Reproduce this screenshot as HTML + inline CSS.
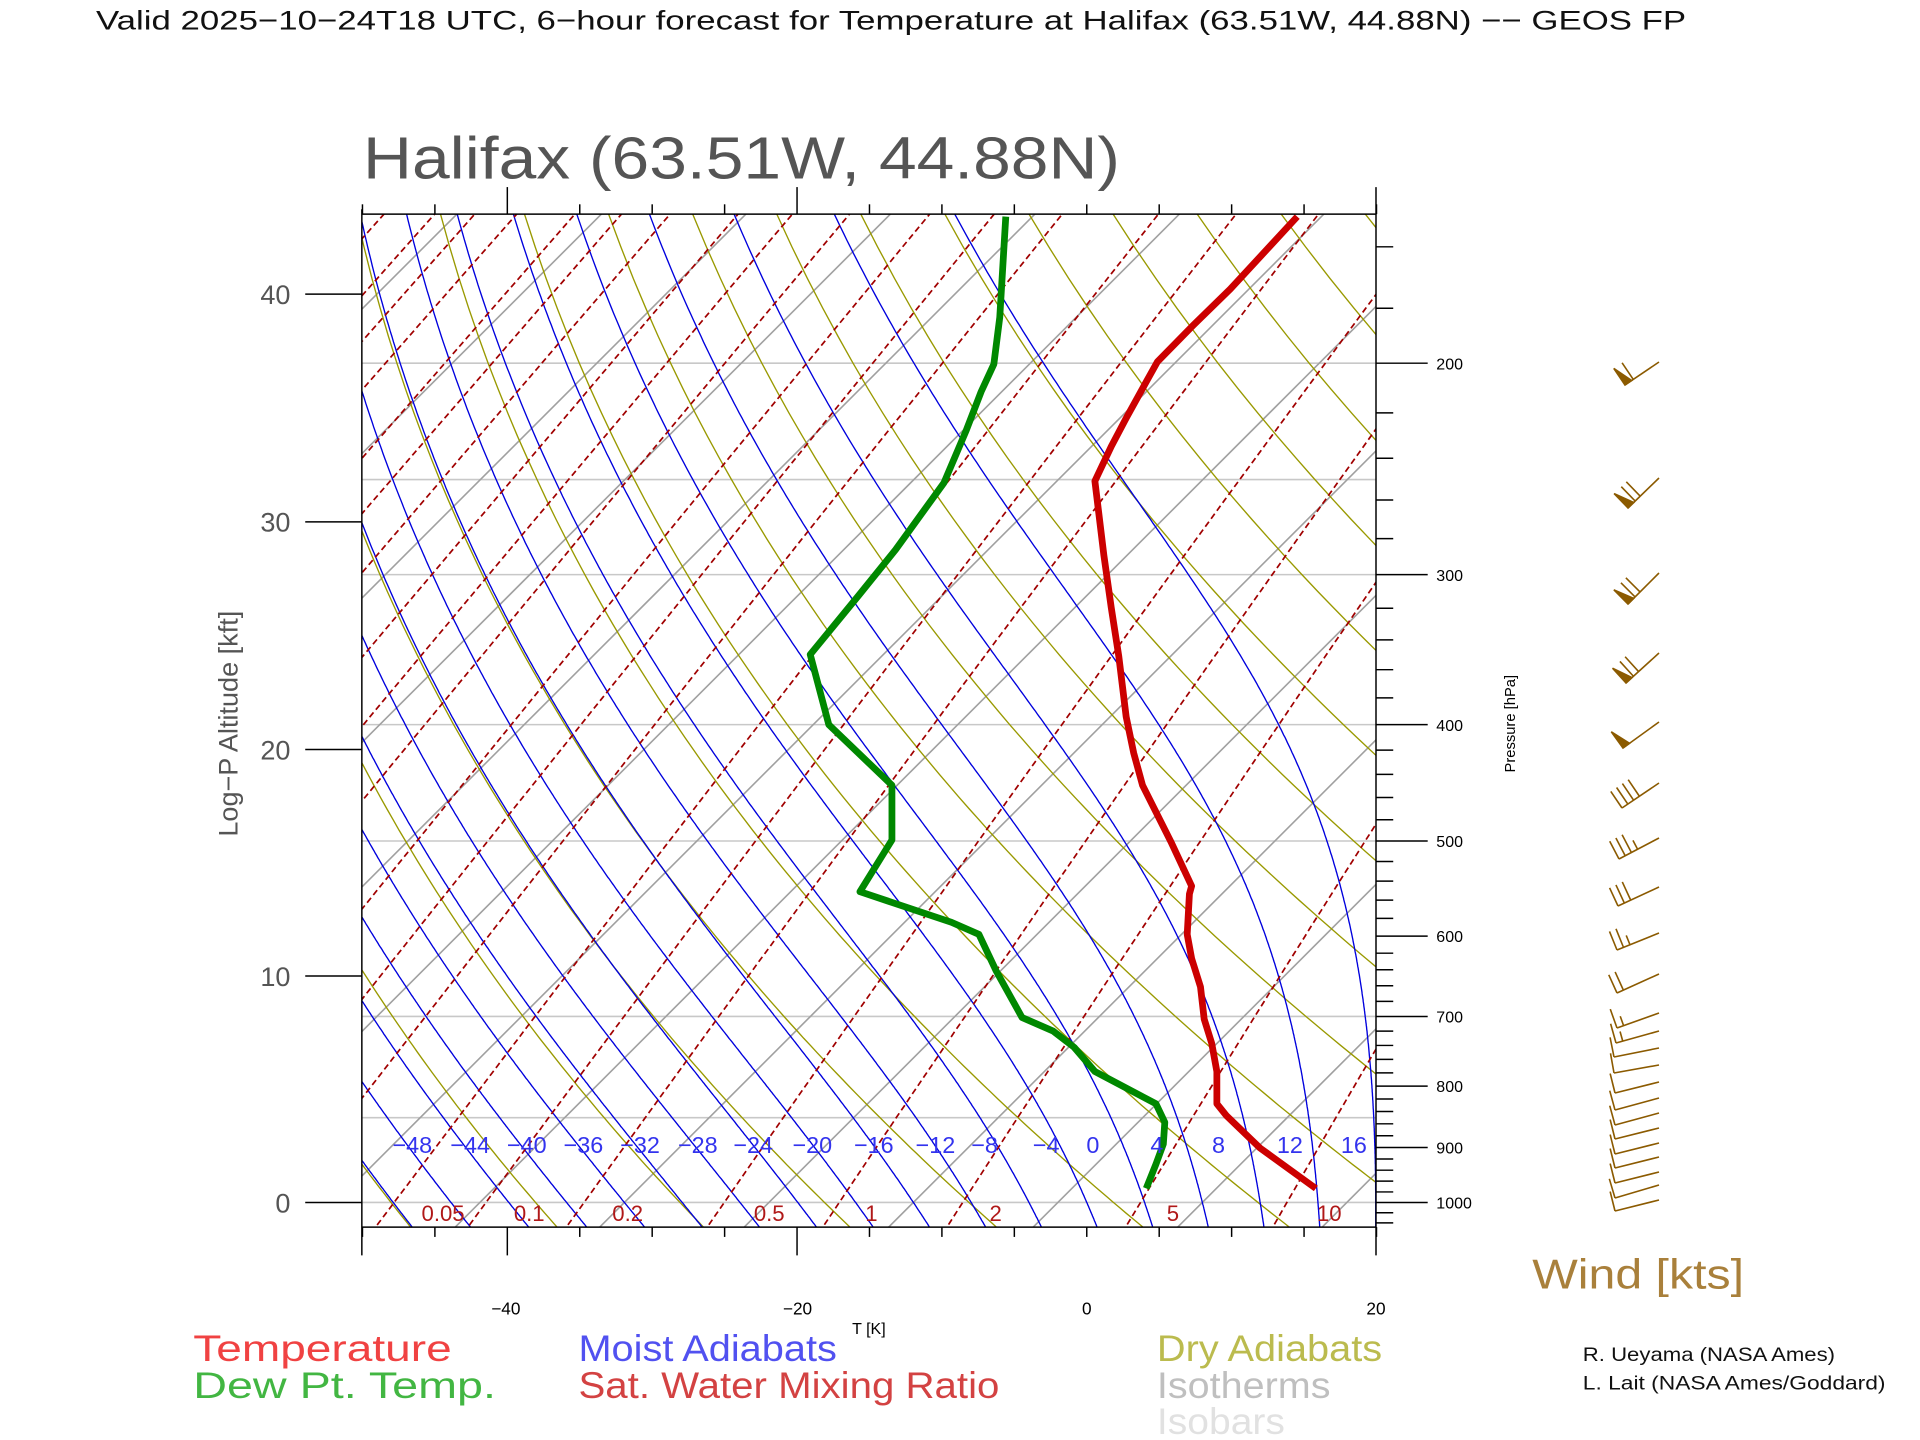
<!DOCTYPE html>
<html><head><meta charset="utf-8">
<style>
html,body{margin:0;padding:0;background:#fff;}
svg{display:block;}
text{font-family:"Liberation Sans",sans-serif;}
</style></head>
<body>
<svg id="s" xmlns="http://www.w3.org/2000/svg" width="1920" height="1440" viewBox="0 0 1560 1170">
<rect width="1560" height="1170" fill="#fff"/>
<defs><clipPath id="cp"><rect x="294" y="174" width="824" height="823"/></clipPath></defs>
<g id="grid" clip-path="url(#cp)"></g>
<g id="data" clip-path="url(#cp)"></g>
<g id="axes" stroke="#000" stroke-width="1.2" fill="none"></g>
<g id="barbs" transform="scale(0.8125)" stroke="#8b5a00" fill="#8b5a00" stroke-width="1.6"></g>

<text x="78" y="24" font-size="22" fill="#111" textLength="1292" lengthAdjust="spacingAndGlyphs">Valid 2025−10−24T18 UTC, 6−hour forecast for Temperature at Halifax (63.51W, 44.88N) −− GEOS FP</text>
<text x="295" y="145" font-size="48" fill="#555" textLength="615" lengthAdjust="spacingAndGlyphs">Halifax (63.51W, 44.88N)</text>

<g font-size="22" fill="#555" text-anchor="end">
<text x="236" y="985">0</text><text x="236" y="801">10</text><text x="236" y="617">20</text><text x="236" y="432">30</text><text x="236" y="247">40</text>
</g>
<text transform="translate(193,588) rotate(-90)" font-size="22" fill="#555" text-anchor="middle">Log−P Altitude [kft]</text>
<text transform="translate(1231,588) rotate(-90)" font-size="12" fill="#000" text-anchor="middle">Pressure [hPa]</text>

<g font-size="14" fill="#000" text-anchor="middle">
<text x="411" y="1068">−40</text><text x="648" y="1068">−20</text><text x="883" y="1068">0</text><text x="1118" y="1068">20</text>
<text x="706" y="1084" font-size="13">T [K]</text>
</g>

<g font-size="19" fill="#3333ee" text-anchor="middle" id="mlab"></g>
<g font-size="18" fill="#b01818" text-anchor="middle">
<text x="360" y="992">0.05</text><text x="430" y="992">0.1</text><text x="510" y="992">0.2</text><text x="625" y="992">0.5</text><text x="708" y="992">1</text><text x="809" y="992">2</text><text x="953" y="992">5</text><text x="1080" y="992">10</text>
</g>

<g font-size="30" opacity="0.85">
<text x="157" y="1106" fill="#ee2222" textLength="210" lengthAdjust="spacingAndGlyphs">Temperature</text>
<text x="157" y="1136" fill="#22aa22" textLength="246" lengthAdjust="spacingAndGlyphs">Dew Pt. Temp.</text>
<text x="470" y="1106" fill="#3333ee" textLength="210" lengthAdjust="spacingAndGlyphs">Moist Adiabats</text>
<text x="470" y="1136" fill="#cc2222" textLength="342" lengthAdjust="spacingAndGlyphs">Sat. Water Mixing Ratio</text>
<text x="940" y="1106" fill="#b0b030" textLength="183" lengthAdjust="spacingAndGlyphs">Dry Adiabats</text>
<text x="940" y="1136" fill="#b4b4b4" textLength="141" lengthAdjust="spacingAndGlyphs">Isotherms</text>
<text x="940" y="1165" fill="#dcdcdc" textLength="104" lengthAdjust="spacingAndGlyphs">Isobars</text>
</g>
<text x="1245" y="1047" font-size="34" fill="#9b6a1a" opacity="0.85" textLength="172" lengthAdjust="spacingAndGlyphs">Wind [kts]</text>
<g font-size="16" fill="#111">
<text x="1286" y="1106" textLength="205" lengthAdjust="spacingAndGlyphs">R. Ueyama (NASA Ames)</text>
<text x="1286" y="1129" textLength="246" lengthAdjust="spacingAndGlyphs">L. Lait (NASA Ames/Goddard)</text>
</g>
<g font-size="13" fill="#000" id="plab"></g>
</svg>
<script>
(function(){
var NS="http://www.w3.org/2000/svg";
function el(parent,tag,attrs){var e=document.createElementNS(NS,tag);for(var k in attrs)e.setAttribute(k,attrs[k]);parent.appendChild(e);return e;}
var Y=function(p){return 977-423.7*Math.log(1000/p);};
var X=function(T,p){return 883+11.74*T+(977-Y(p));};
var g=document.getElementById('grid'),d=document.getElementById('data'),ax=document.getElementById('axes');
function poly(par,pts,attrs){var s=pts.map(function(q){return q[0].toFixed(1)+','+q[1].toFixed(1);}).join(' ');attrs.points=s;attrs.fill='none';return el(par,'polyline',attrs);}
[1000,850,700,500,400,300,250,200,150].forEach(function(p){el(g,'line',{x1:294,x2:1118,y1:Y(p),y2:Y(p),stroke:'#c8c8c8','stroke-width':1.3});});
for(var T=-202;T<=60;T+=10){poly(g,[[X(T,1060),Y(1060)],[X(T,140),Y(140)]],{stroke:'#a0a0a0','stroke-width':1.3});}
for(var th=195;th<=515;th+=10){var pts=[];for(var p=1060;p>=140;p-=10){var t=th*Math.pow(p/1000,0.2857)-273.15;pts.push([X(t,p),Y(p)]);}poly(g,pts,{stroke:'#999900','stroke-width':1.1});}
var Rd=287,Cp=1005,Lv=2.5e6,eps=0.622;
function rs(TK,p){var tc=TK-273.15;var es=6.112*Math.exp(17.67*tc/(tc+243.5));return eps*es/(p-es);}
function dTdp(TK,p){var r=rs(TK,p);return (Rd*TK+Lv*r)/(p*(Cp+Lv*Lv*r*eps/(Rd*TK*TK)));}
for(var tw=-88;tw<=20;tw+=4){
 var up=[],TK=tw+273.15,p=1000,dp=2;
 while(p>=140){up.push([X(TK-273.15,p),Y(p)]);TK-=dTdp(TK,p)*dp;p-=dp;}
 var dn=[];TK=tw+273.15;p=1000;
 while(p<=1060){dn.unshift([X(TK-273.15,p),Y(p)]);TK+=dTdp(TK,p)*dp;p+=dp;}
 poly(g,dn.concat(up),{stroke:'#0000dd','stroke-width':1.1});
}
var rv=[];[1e-6,1e-5,1e-4,1e-3,1e-2,1e-1,1,10].forEach(function(b){rv.push(b,2*b,5*b);});rv.push(100);
rv.forEach(function(r){var pts=[];for(var p=1060;p>=140;p-=10){var e=r*p/(622+r);var L=Math.log(e/6.112);var td=243.5*L/(17.67-L);pts.push([X(td,p),Y(p)]);}poly(g,pts,{stroke:'#a00000','stroke-width':1.4,'stroke-dasharray':'5,3'});});
var sx=function(z){return 294+(z-82)*0.6041;},sy=function(z){return 174+(z-142)*0.6553;};
var red=[[1365,1350],[1290,1300],[1245,1260],[1232,1245],[1232,1205],[1225,1170],[1215,1140],[1210,1100],[1198,1065],[1192,1035],[1195,985],[1198,975],[1170,920],[1132,850],[1120,810],[1110,765],[1100,690],[1090,630],[1080,565],[1068,473],[1090,430],[1110,395],[1140,345],[1152,325],[1200,280],[1250,235],[1340,145]];
var grn=[[1137,1350],[1150,1320],[1160,1295],[1162,1268],[1150,1245],[1068,1205],[1040,1175],[1012,1155],[970,1138],[935,1080],[912,1035],[875,1020],[752,982],[795,918],[795,850],[710,775],[685,688],[750,615],[800,558],[865,475],[895,410],[915,362],[932,328],[940,270],[948,145]];
poly(d,red.map(function(q){return[sx(q[0]),sy(q[1])];}),{stroke:'#cc0000','stroke-width':5.5,'stroke-linejoin':'round'});
poly(d,grn.map(function(q){return[sx(q[0]),sy(q[1])];}),{stroke:'#008800','stroke-width':5.5,'stroke-linejoin':'round'});
el(ax,'line',{x1:294,y1:170,x2:294,y2:1020});
el(ax,'line',{x1:1118,y1:152,x2:1118,y2:1020});
el(ax,'line',{x1:294,y1:174,x2:1118,y2:174});
el(ax,'line',{x1:294,y1:997,x2:1118,y2:997});
[977,793,609,424,239].forEach(function(y){el(ax,'line',{x1:248,y1:y,x2:294,y2:y});});
for(var t=-50;t<=20;t+=5){var x=883+t*11.77;var big=(t==-40||t==-20);
 el(ax,'line',{x1:x,y1:997,x2:x,y2:big?1020:1005});el(ax,'line',{x1:x,y1:174,x2:x,y2:big?152:166});}
var pl=document.getElementById('plab');
for(var p=160;p<=1040;p+=20){var y=Y(p);if(y<174||y>997)continue;var maj=(p%100==0);
 el(ax,'line',{x1:1118,y1:y,x2:maj?1160:1132,y2:y});
 if(maj){var tx=el(pl,'text',{x:1167,y:y+5});tx.textContent=p;}}
var ml=document.getElementById('mlab');
var lx=[335,382,428,474,520,567,612,660,710,760,800,850,888,940,990,1048,1100];
for(var i=0;i<lx.length;i++){var v=-48+4*i;var tt=el(ml,'text',{x:lx[i],y:937});tt.textContent=(v<0?'\u2212'+(-v):''+v);}
var B=document.getElementById('barbs');
var bl=[[1625,385,1659,362,'PB'],[1628,508,1659,478,'PBB'],[1628,604,1659,573,'PBB'],[1626,683,1659,653,'PBB'],[1623,748,1659,722,'P'],
[1622,808,1659,783,'BBBB'],[1619,859,1659,838,'BBBH'],[1618,906,1659,887,'BBB'],[1617,950,1659,933,'BBH'],[1617,993,1659,974,'BB'],
[1617,1028,1659,1013,'BH'],[1616,1043,1659,1031,'BH'],[1614,1057,1659,1048,'B'],[1614,1073,1659,1065,'B'],[1615,1093,1659,1082,'B'],
[1615,1110,1659,1098,'B'],[1615,1125,1659,1113,'B'],[1615,1139,1659,1128,'B'],[1615,1154,1659,1143,'B'],[1615,1168,1659,1157,'B'],[1615,1183,1659,1172,'B'],[1615,1198,1659,1185,'B'],[1615,1211,1659,1200,'B']];
bl.forEach(function(b){
 var fx=b[0],fy=b[1],ex=b[2],ey=b[3];var dx=ex-fx,dy=ey-fy,L=Math.hypot(dx,dy);var ux=dx/L,uy=dy/L;var px=uy,py=-ux;
 if(py>0){px=-px;py=-py;}
 el(B,'line',{x1:fx,y1:fy,x2:ex,y2:ey});
 var s=0;b[4].split('').forEach(function(c){
  var bx=fx+ux*s,by=fy+uy*s;
  if(c=='P'){var cx=fx+ux*(s+8),cy=fy+uy*(s+8);el(B,'polygon',{points:bx+','+by+' '+(bx+px*20)+','+(by+py*20)+' '+cx+','+cy});s+=10;}
  else if(c=='B'){el(B,'line',{x1:bx,y1:by,x2:bx+px*20,y2:by+py*20});s+=7;}
  else{el(B,'line',{x1:bx,y1:by,x2:bx+px*10,y2:by+py*10});s+=7;}
 });
});
})();
</script>
</body></html>
